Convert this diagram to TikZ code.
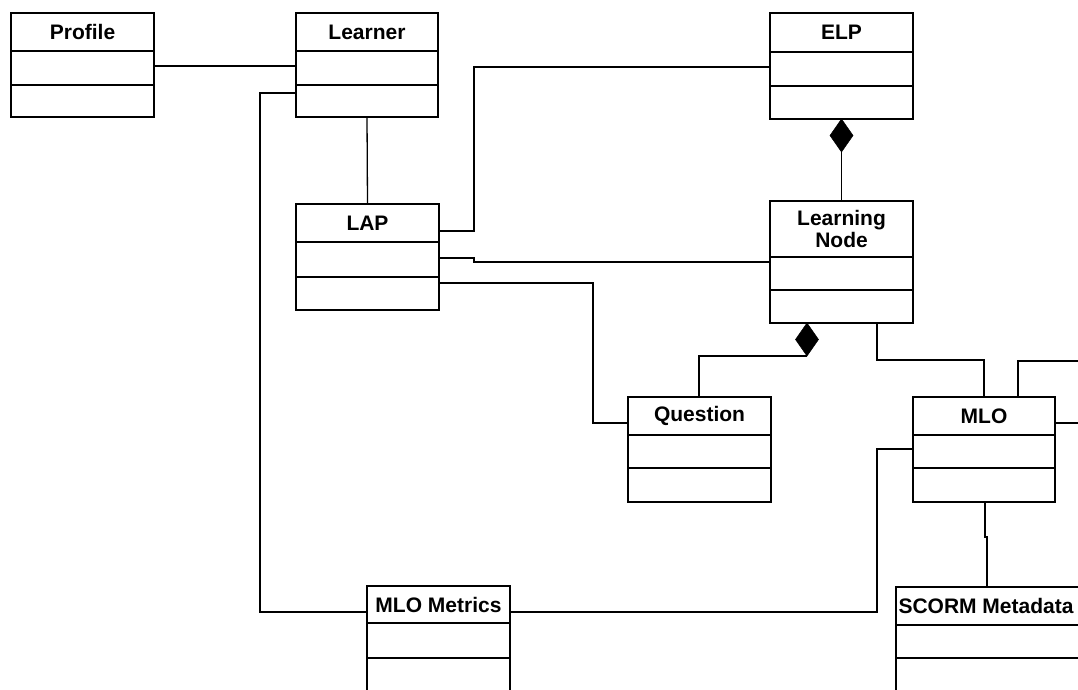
\documentclass[tikz,border=0pt]{standalone}
\usepackage{fontspec}
\setmainfont{Liberation Sans}
\usetikzlibrary{shapes.geometric}
\tikzset{
  classbox/.style={draw=black, line width=1.8pt, rectangle, inner sep=0pt, outer sep=0pt, fill=white},
  sepline/.style={draw=black, line width=1.6pt},
  classtitle/.style={font=\bfseries\fontsize{21}{22}\selectfont, align=center, inner sep=0pt},
  conn/.style={draw=black, line width=1.3pt},
  compdiamond/.style={diamond, fill=black, draw=black, line width=0.5pt, inner sep=0pt, outer sep=0pt, minimum width=23pt, minimum height=33pt, anchor=north},
}
% name, left, top, right, line1, line2, bottom, title centre x, title
\newcommand\umlclassbox[9]{%
  \node[classbox, minimum width={#4-#2}, minimum height={#7-#3}, anchor=north west] (#1) at (#2,-#3) {};
  \draw[sepline] (#2,-#5) -- (#4,-#5);
  \draw[sepline] (#2,-#6) -- (#4,-#6);
  \node[classtitle] (#1-t) at ({#8},{-(#3+#5)/2}) {#9};
}
\begin{document}
\begin{tikzpicture}[x=1pt,y=1pt]
\useasboundingbox (0,0) rectangle (1078,-690);
\fill[white] (0,0) rectangle (1078,-690);
\clip (0,0) rectangle (1078,-690);

\umlclassbox{profile}{11}{13}{154}{51}{85}{117}{82.5}{Profile}
\umlclassbox{learner}{296}{13}{438}{51}{85}{117}{367}{Learner}
\umlclassbox{elp}{770}{13}{913}{52}{86}{119}{841.5}{ELP}
\umlclassbox{lap}{296}{204}{439}{242}{277}{310}{367.5}{LAP}
\umlclassbox{ln}{770}{201}{913}{257}{290}{323}{841.5}{Learning\\Node}
\umlclassbox{q}{628}{397}{771}{435}{468}{502}{699.5}{Question}
\umlclassbox{mlo}{913}{397}{1055}{435}{468}{502}{984}{MLO}
\umlclassbox{mlom}{367}{586}{510}{623}{658}{700}{438.5}{MLO Metrics}
\umlclassbox{scorm}{896}{587}{1090}{625}{658}{700}{986}{SCORM Metadata}

\node[compdiamond] (d1) at (elp.south) {};
\node[compdiamond] (d2) at (ln.south -| 807,0) {};

\coordinate (e1) at (1082,-361);
\coordinate (e2) at (1082,-423);

% connectors
\draw[conn] (profile.east |- 0,-66) -- (learner.west |- 0,-66);
\draw[conn] (learner.west |- 0,-93) -- ++(-36,0) |- (mlom.west |- 0,-612);
\draw[conn] (learner.south) -- (lap.north);
\draw[conn] (lap.east |- 0,-231) -- ++(35,0) |- (elp.west |- 0,-67);
\draw[conn] (lap.east |- 0,-258) -- ++(35,0) -- ++(0,-4) -- (ln.west |- 0,-262);
\draw[conn] (lap.east |- 0,-283) -- ++(154,0) |- (q.west |- 0,-423);
\draw[conn] (d1.south) -- (ln.north -| d1.south);
\draw[conn] (d2.south) -| (q.north -| 699,0);
\draw[conn] (ln.south -| 877,0) -- ++(0,-37) -| (mlo.north -| 984,0);
\draw[conn] (mlo.north -| 1018,0) |- (e1);
\draw[conn] (mlo.east |- 0,-423) -- (e2);
\draw[conn] (mlo.west |- 0,-449) -- ++(-36,0) |- (mlom.east |- 0,-612);
\draw[conn] (mlo.south -| 985,0) -- ++(0,-35) -- ++(2,0) -- (scorm.north -| 987,0);
\end{tikzpicture}
\end{document}
